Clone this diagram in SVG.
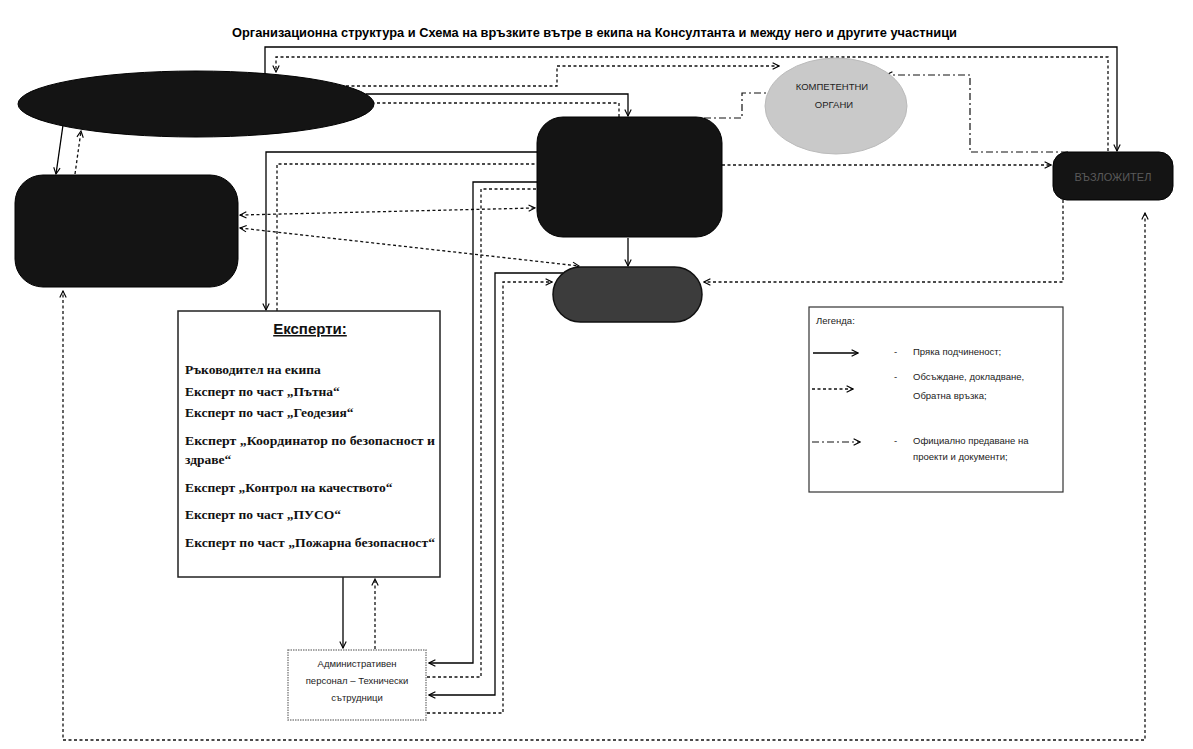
<svg xmlns="http://www.w3.org/2000/svg" width="1193" height="749" viewBox="0 0 1193 749">
<defs>
<marker id="arr" viewBox="0 0 10 10" refX="9" refY="5" markerWidth="8" markerHeight="8" markerUnits="userSpaceOnUse" orient="auto-start-reverse">
<path d="M1,1 L9,5 L1,9" fill="none" stroke="#000" stroke-width="1.4"/>
</marker>
</defs>
<style>
.solid{fill:none;stroke:#000;stroke-width:1.3}
.dot{fill:none;stroke:#111;stroke-width:1.3;stroke-dasharray:3 2.5}
.dd{fill:none;stroke:#111;stroke-width:1.2;stroke-dasharray:7 3 2 3}
.dark{fill:#141414;stroke:#000;stroke-width:1}
.title{font-family:"Liberation Sans",Arial,sans-serif;font-weight:bold;font-size:12px;fill:#000}
.exp{font-family:"Liberation Serif","Times New Roman",serif;font-weight:bold;font-size:13.5px;fill:#111}
.small{font-family:"Liberation Sans",Arial,sans-serif;font-size:9.5px;fill:#222}
</style>
<rect width="1193" height="749" fill="#fff"/>
<text class="title" x="232" y="37" textLength="725" lengthAdjust="spacingAndGlyphs">Организационна структура и  Схема на връзките вътре в екипа на Консултанта и между него и другите участници</text>

<g id="connectors">
<path class="solid" d="M63,125 L56,174" marker-end="url(#arr)"/>
<path class="dot" d="M75,174 L81,131" marker-end="url(#arr)"/>
<path class="solid" d="M265,74 V47 H1117 V151" marker-end="url(#arr)"/>
<path class="dot" d="M1108,151 V57 H276 V72" marker-end="url(#arr)"/>
<path class="dot" d="M346,86 H557 V66 H779" marker-end="url(#arr)"/>
<path class="solid" d="M366,94 H628 V116" marker-end="url(#arr)"/>
<path class="dot" d="M619,117 V103 H374"/>
<path class="dd" d="M704,118 H742 V93 H786" marker-end="url(#arr)"/>
<path class="dd" d="M1068,152 H970 V75 H886" marker-end="url(#arr)"/>
<path class="dot" d="M722,165 H1051" marker-end="url(#arr)"/>
<path class="dot" d="M1063,200 V282 H704" marker-end="url(#arr)"/>
<path class="dot" d="M240,215 L535,208" marker-start="url(#arr)" marker-end="url(#arr)"/>
<path class="dot" d="M240,228 L579,266" marker-start="url(#arr)" marker-end="url(#arr)"/>
<path class="solid" d="M537,152 H266 V310" marker-end="url(#arr)"/>
<path class="dot" d="M277,311 V164 H537"/>
<path class="solid" d="M537,182 H473 V663 H429" marker-end="url(#arr)"/>
<path class="dot" d="M427,677 H481 V189 H537"/>
<path class="solid" d="M563,273 H495 V695 H429" marker-end="url(#arr)"/>
<path class="dot" d="M427,713 H503 V282 H552" marker-end="url(#arr)"/>
<path class="solid" d="M628,238 V266" marker-end="url(#arr)"/>
<path class="solid" d="M343,577 V648" marker-end="url(#arr)"/>
<path class="dot" d="M375,649 V579" marker-end="url(#arr)"/>
<path class="dot" d="M1145,213 V740 H63 V291" marker-start="url(#arr)" marker-end="url(#arr)"/>
</g>

<g id="node-top-ellipse">
<ellipse class="dark" cx="196" cy="104" rx="178" ry="33"/>
</g>
<g id="node-left">
<rect class="dark" x="15" y="175" width="223" height="112" rx="28"/>
</g>
<g id="node-center">
<rect class="dark" x="537" y="117" width="185" height="120" rx="26"/>
</g>
<g id="node-kompetentni">
<ellipse cx="836" cy="106" rx="71" ry="48" fill="#c9c9c9" stroke="#bbb" stroke-width="1"/>
<text class="small" x="832" y="90" text-anchor="middle" font-size="8">КОМПЕТЕНТНИ</text>
<text class="small" x="834" y="108" text-anchor="middle" font-size="8">ОРГАНИ</text>
</g>
<g id="node-vazlozhitel">
<rect class="dark" x="1053" y="152" width="120" height="48" rx="14"/>
<text x="1113" y="181" text-anchor="middle" font-family="Liberation Sans, Arial, sans-serif" font-size="11" fill="#5a5a5a">ВЪЗЛОЖИТЕЛ</text>
</g>
<g id="node-oval">
<rect x="553" y="267" width="149" height="55" rx="27.5" fill="#3c3c3c" stroke="#111" stroke-width="1.5"/>
</g>
<g id="node-experts">
<rect x="178" y="311" width="262" height="266" fill="#fff" stroke="#222" stroke-width="1.5"/>
<text x="310" y="334" text-anchor="middle" font-family="Liberation Sans, Arial, sans-serif" font-weight="bold" font-size="15" text-decoration="underline" fill="#111">Експерти:</text>
<text class="exp" x="185" y="374">Ръководител на екипа</text>
<text class="exp" x="185" y="396">Експерт по част „Пътна“</text>
<text class="exp" x="185" y="417">Експерт по част „Геодезия“</text>
<text class="exp" x="185" y="445" textLength="250" lengthAdjust="spacingAndGlyphs">Експерт „Координатор по безопасност и</text>
<text class="exp" x="185" y="464">здраве“</text>
<text class="exp" x="185" y="492">Експерт „Контрол на качеството“</text>
<text class="exp" x="185" y="519">Експерт по част „ПУСО“</text>
<text class="exp" x="185" y="547" textLength="250" lengthAdjust="spacingAndGlyphs">Експерт по част „Пожарна безопасност“</text>
</g>
<g id="node-admin">
<rect x="288" y="650" width="138" height="70" fill="#fff" stroke="#888" stroke-width="1.5" stroke-dasharray="1.5 1"/>
<text class="small" x="357" y="667" text-anchor="middle">Административен</text>
<text class="small" x="357" y="684" text-anchor="middle">персонал – Технически</text>
<text class="small" x="357" y="701" text-anchor="middle">сътрудници</text>
</g>
<g id="legend">
<rect x="809" y="307" width="254" height="185" fill="#fff" stroke="#333" stroke-width="1.2"/>
<text class="small" x="816" y="324">Легенда:</text>
<path class="solid" d="M813,353 H858" marker-end="url(#arr)"/>
<text class="small" x="894" y="355">-</text>
<text class="small" x="913" y="355">Пряка подчиненост;</text>
<path class="dot" d="M812,389 H853" marker-end="url(#arr)"/>
<text class="small" x="894" y="380">-</text>
<text class="small" x="913" y="380">Обсъждане, докладване,</text>
<text class="small" x="913" y="399">Обратна връзка;</text>
<path class="dd" d="M812,442 H860" marker-end="url(#arr)"/>
<text class="small" x="894" y="444">-</text>
<text class="small" x="913" y="444">Официално предаване на</text>
<text class="small" x="913" y="460">проекти и документи;</text>
</g>
</svg>
